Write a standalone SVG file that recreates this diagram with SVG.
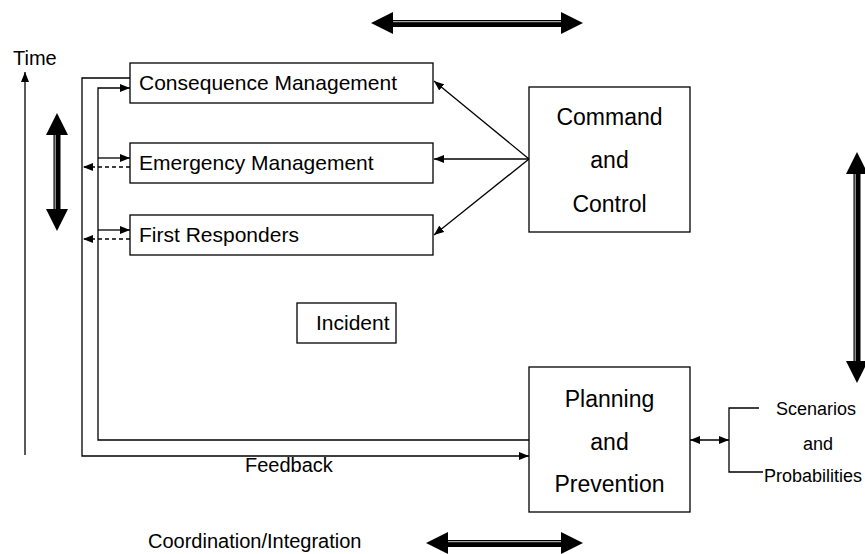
<svg xmlns="http://www.w3.org/2000/svg" width="865" height="554" viewBox="0 0 865 554">
<style>
.box{fill:#fff;stroke:#000;stroke-width:1.3}
.ln{fill:none;stroke:#000;stroke-width:1.3}
.dash{fill:none;stroke:#000;stroke-width:1.3;stroke-dasharray:4 3}
.t{font-family:"Liberation Sans",Arial,Helvetica,sans-serif;fill:#000}
.lb{font-size:21px}
.big{font-size:23px;text-anchor:middle}
.sm{font-size:18px;text-anchor:middle}
.fat{fill:#000}
</style>
<defs>
<marker id="ah" markerUnits="userSpaceOnUse" markerWidth="10" markerHeight="8" refX="10" refY="4" orient="auto-start-reverse">
<path d="M0,0 L10,4 L0,8 z" fill="#000"/>
</marker>
</defs>
<g id="connectors">
<line class="ln" x1="25" y1="455" x2="25" y2="72" marker-end="url(#ah)"/>
<polyline class="ln" points="130,78 82,78 82,456 529,456" marker-end="url(#ah)"/>
<polyline class="ln" points="529,440 98,440 98,88 130,88" marker-end="url(#ah)"/>
<line class="ln" x1="98" y1="158" x2="130" y2="158" marker-end="url(#ah)"/>
<line class="ln" x1="98" y1="230" x2="130" y2="230" marker-end="url(#ah)"/>
<line class="dash" x1="130" y1="167" x2="83" y2="167" marker-end="url(#ah)"/>
<line class="dash" x1="130" y1="239" x2="83" y2="239" marker-end="url(#ah)"/>
<line class="ln" x1="529" y1="159" x2="434" y2="81" marker-end="url(#ah)"/>
<line class="ln" x1="529" y1="159" x2="434" y2="159" marker-end="url(#ah)"/>
<line class="ln" x1="529" y1="159" x2="434" y2="235" marker-end="url(#ah)"/>
<line class="ln" x1="690" y1="440" x2="729" y2="440" marker-start="url(#ah)" marker-end="url(#ah)"/>
<path class="ln" d="M759,408 H729 V472 H763"/>
</g>
<g id="arrow-top">
<path class="fat" d="M371,23 L393,12 L393,20 L561,20 L561,12 L583,23 L561,34 L561,27 L393,27 L393,34 z"/>
<line x1="393" y1="21.7" x2="561" y2="21.7" stroke="#fff" stroke-width="0.8"/>
</g>
<g id="arrow-bottom">
<path class="fat" d="M426,543 L448,532 L448,540 L561,540 L561,532 L583,543 L561,554 L561,547 L448,547 L448,554 z"/>
<line x1="448" y1="541.7" x2="561" y2="541.7" stroke="#fff" stroke-width="0.8"/>
</g>
<g id="arrow-left">
<path class="fat" d="M57,113 L68,135 L60.5,135 L60.5,209 L68,209 L57,231 L46,209 L53.5,209 L53.5,135 L46,135 z"/>
<line x1="55.2" y1="135" x2="55.2" y2="209" stroke="#fff" stroke-width="0.8"/>
</g>
<g id="arrow-right">
<path class="fat" d="M857,152 L868,174 L860.5,174 L860.5,361 L868,361 L857,383 L846,361 L853.5,361 L853.5,174 L846,174 z"/>
<line x1="855.2" y1="174" x2="855.2" y2="361" stroke="#fff" stroke-width="0.8"/>
</g>
<g id="consequence">
<rect class="box" x="130" y="63" width="303" height="40"/>
<text class="t lb" x="139" y="90">Consequence Management</text>
</g>
<g id="emergency">
<rect class="box" x="130" y="143" width="303" height="40"/>
<text class="t lb" x="139" y="170">Emergency Management</text>
</g>
<g id="first-responders">
<rect class="box" x="130" y="215" width="303" height="40"/>
<text class="t lb" x="139" y="242">First Responders</text>
</g>
<g id="incident">
<rect class="box" x="297" y="303" width="99" height="40"/>
<text class="t lb" x="316" y="330">Incident</text>
</g>
<g id="command">
<rect class="box" x="529" y="87" width="161" height="145"/>
<text class="t big" x="609.5" y="125">Command</text>
<text class="t big" x="609.5" y="168">and</text>
<text class="t big" x="609.5" y="212">Control</text>
</g>
<g id="planning">
<rect class="box" x="529" y="367" width="161" height="145"/>
<text class="t big" x="609.5" y="407">Planning</text>
<text class="t big" x="609.5" y="450">and</text>
<text class="t big" x="609.5" y="492">Prevention</text>
</g>
<g id="scenarios">
<text class="t sm" x="816" y="415">Scenarios</text>
<text class="t sm" x="818" y="450">and</text>
<text class="t sm" x="813" y="482">Probabilities</text>
</g>
<g id="labels">
<text class="t" font-size="20" x="13" y="65">Time</text>
<text class="t" font-size="20" x="245" y="472">Feedback</text>
<text class="t" font-size="20" x="148" y="548">Coordination/Integration</text>
</g>
</svg>
